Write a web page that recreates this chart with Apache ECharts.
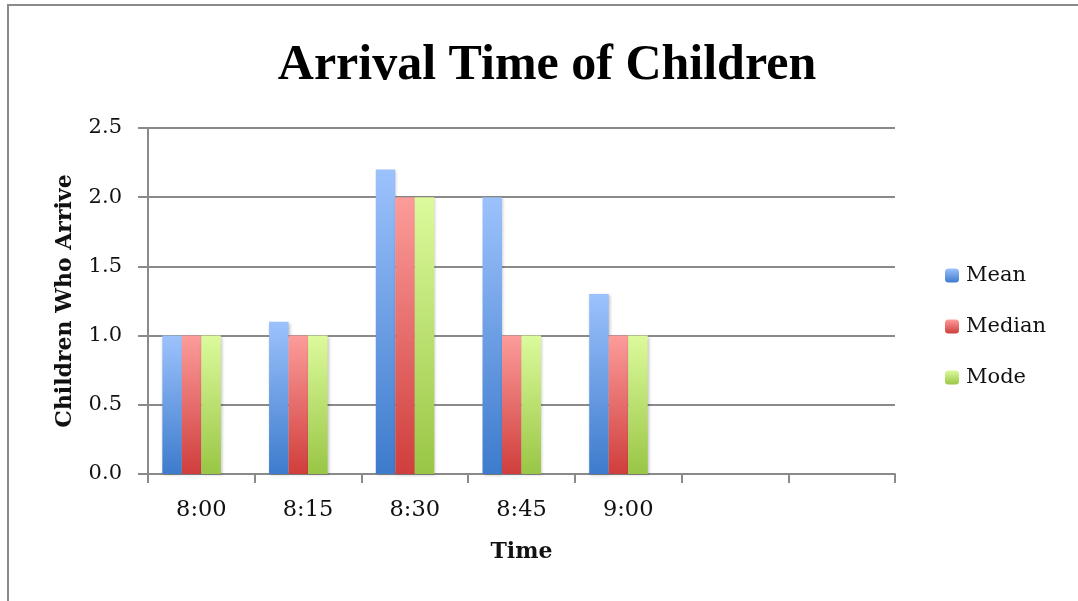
<!DOCTYPE html>
<html>
<head>
<meta charset="utf-8">
<script src="https://cdn.jsdelivr.net/npm/echarts@6/dist/echarts.min.js"></script>
<style>
html,body{margin:0;padding:0;background:#fff;}
#frame{position:absolute;left:7px;top:4px;width:1071px;height:597px;border-left:2px solid #8a8a8a;border-top:2px solid #8a8a8a;}
#chart{position:absolute;left:0;top:0;width:1078px;height:601px;}
</style>
</head>
<body>
<div id="frame"></div>
<div id="chart"></div>
<script>
var categories = ['8:00', '8:15', '8:30', '8:45', '9:00', '', ''];
var meanValues = [1.0, 1.1, 2.2, 2.0, 1.3];
var medianValues = [1.0, 1.0, 2.0, 1.0, 1.0];
var modeValues = [1.0, 1.0, 2.0, 1.0, 1.0];
var seriesNames = ['Mean', 'Median', 'Mode'];

var TITLE_FONT = '"Liberation Serif", serif';
var FONT = '"DejaVu Serif", serif';
function grad(top, bottom) {
  return new echarts.graphic.LinearGradient(0, 0, 0, 1, [
    {offset: 0, color: top}, {offset: 1, color: bottom}
  ]);
}
var colors = [
  grad('#9cc2fc', '#3d7bcc'),
  grad('#fc9c9a', '#cf3e3c'),
  grad('#dcfa9c', '#99c645')
];
var chart = echarts.init(document.getElementById('chart'));
function barSeries(name, data, color) {
  return {
    name: name, type: 'bar', data: data, barWidth: 19.5, barGap: '0%',
    itemStyle: {color: color, shadowColor: 'rgba(0,0,0,0.25)', shadowBlur: 3, shadowOffsetX: 1, shadowOffsetY: 1},
    emphasis: {disabled: true}
  };
}
chart.setOption({
  animation: false,
  backgroundColor: 'transparent',
  title: {
    text: 'Arrival Time of Children', left: 542, top: 36, textAlign: 'center',
    textStyle: {fontFamily: TITLE_FONT, fontWeight: 'bold', fontSize: 50, color: '#000'}
  },
  legend: {
    orient: 'vertical', left: 940, top: 260, itemGap: 30, itemWidth: 14, itemHeight: 14,
    data: seriesNames,
    textStyle: {fontFamily: FONT, fontSize: 21, color: '#111', padding: [0, 0, 0, 2]}
  },
  grid: {left: 148, right: 183, top: 128, bottom: 127, containLabel: false},
  xAxis: {
    type: 'category', data: categories,
    name: 'Time', nameLocation: 'middle', nameGap: 67,
    nameTextStyle: {fontFamily: FONT, fontWeight: 'bold', fontSize: 22, color: '#111'},
    axisLine: {lineStyle: {color: '#8a8a8a', width: 2}},
    axisTick: {show: true, alignWithLabel: false, length: 9, lineStyle: {color: '#8a8a8a', width: 2}},
    axisLabel: {fontFamily: FONT, fontSize: 22.5, color: '#111', margin: 25, interval: 0}
  },
  yAxis: {
    type: 'value', min: 0, max: 2.5, interval: 0.5,
    name: 'Children Who Arrive', nameLocation: 'middle', nameGap: 72,
    nameTextStyle: {fontFamily: FONT, fontWeight: 'bold', fontSize: 22, color: '#111'},
    axisLine: {show: true, lineStyle: {color: '#8a8a8a', width: 2}},
    axisTick: {show: true, length: 10, lineStyle: {color: '#8a8a8a', width: 2}},
    splitLine: {lineStyle: {color: '#8a8a8a', width: 2}},
    axisLabel: {fontFamily: FONT, fontSize: 21, color: '#111', margin: 26,
      formatter: function (v) { return v.toFixed(1); }}
  },
  series: [
    barSeries(seriesNames[0], meanValues, colors[0]),
    barSeries(seriesNames[1], medianValues, colors[1]),
    barSeries(seriesNames[2], modeValues, colors[2]),
    {name: 'blank', type: 'bar', data: ['-', '-', '-', '-', '-'], barWidth: 19.5, barGap: '0%'}
  ]
});
</script>
</body>
</html>
